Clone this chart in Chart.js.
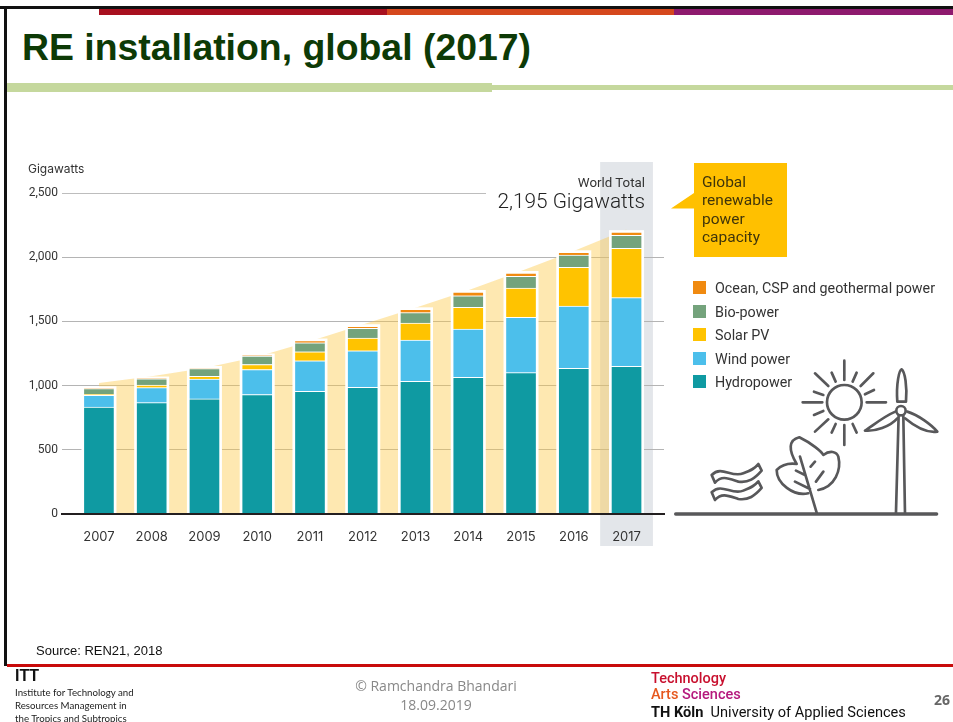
<!DOCTYPE html>
<html>
<head>
<meta charset="utf-8">
<title>RE installation, global (2017)</title>
<script src="https://cdn.jsdelivr.net/npm/chart.js@4"></script>
<style>
  html, body { margin: 0; padding: 0; background: #fff; }
  #slide { position: relative; width: 953px; height: 722px; overflow: hidden; font-family: "Liberation Sans", sans-serif; }
  #slide > * { position: absolute; }
  canvas { left: 0; top: 0; }
  .txt { white-space: nowrap; line-height: 1; }
  .legend-row { position: absolute; left: 0; height: 14px; }
  .legend-row i { position: absolute; left: 0; top: 0; width: 13px; height: 13px; }
  .legend-row span { position: absolute; left: 22px; top: -1px; font: 14.3px/16px Roboto, sans-serif; color: #333; white-space: nowrap; }
</style>
</head>
<body>
<div id="slide">
  <!-- slide frame -->
  <div style="left:0;top:6px;width:953px;height:3px;background:#111"></div>
  <div style="left:4px;top:6px;width:3px;height:660px;background:#111"></div>
  <div style="left:99px;top:9px;width:288px;height:6px;background:#a8101f"></div>
  <div style="left:387px;top:9px;width:287px;height:6px;background:#d5481d"></div>
  <div style="left:674px;top:9px;width:279px;height:6px;background:#8e1a6e"></div>
  <div class="txt" style="left:22px;top:29px;font-size:37.4px;font-weight:bold;color:#0d3a06">RE installation, global (2017)</div>
  <div style="left:7px;top:83px;width:485px;height:9px;background:#c5d89d"></div>
  <div style="left:492px;top:85px;width:461px;height:5px;background:#c5d89d"></div>

  <canvas id="capacityChart" width="953" height="722"></canvas>

  <div class="txt" style="left:28px;top:162px;font:12px/14px Inter,sans-serif;color:#333">Gigawatts</div>
  <div class="txt" style="right:308px;top:175px;font:13.3px/15px Roboto,sans-serif;color:#333">World Total</div>
  <div class="txt" style="right:308px;top:189px;font:300 20.8px/24px Roboto,sans-serif;color:#222">2,195 Gigawatts</div>

  <!-- callout, artwork -->
  <svg style="left:0;top:0" width="953" height="722">
    <polygon points="671,208.5 694,193 694,163 787,163 787,257 694,257 694,208.5" fill="#ffc000"/>
    <g transform="translate(660,150) scale(0.3333)" fill="none" stroke="#58585a" stroke-width="8" stroke-linecap="round" stroke-linejoin="round">
      <path d="M47 1092 L830 1092" stroke-width="10"/>
      <circle cx="553" cy="757" r="52"/>
      <path d="M553 632V690M553 825V885M428 757H487M620 757H678M465 670L505 708M640 670L602 708M465 845L505 808"/>
      <path d="M515 668L527 695M590 668L578 695M462 725L490 735M642 720L615 733M462 795L490 783M515 848L527 822M590 848L578 822"/>
      <path d="M708 1088L716 795M735 1088L730 795"/>
      <circle cx="723" cy="782" r="14"/>
      <path d="M712 755C708 700 718 660 725 658C735 665 742 710 738 755Z"/>
      <path d="M706 785C670 800 635 830 615 842C645 845 690 830 712 805"/>
      <path d="M742 785C775 795 815 825 832 845C800 850 765 830 735 805"/>
      <path d="M420 920L470 1088M408 962L435 975M405 995L450 1017M452 950L465 935M468 995L490 965"/>
      <path d="M445 1030C400 1040 350 1000 350 960C370 940 395 940 410 942C385 900 385 870 418 862C455 880 485 905 490 915C510 900 530 905 535 920C545 960 525 1010 475 1020"/>
      <path d="M155 975C185 945 215 985 250 970C275 960 285 955 295 942L305 962C285 985 265 1000 235 995C205 985 185 975 165 998Z"/>
      <path d="M155 1027C185 997 215 1037 250 1022C275 1012 285 1007 295 994L305 1014C285 1037 265 1052 235 1047C205 1037 185 1027 165 1050Z"/>
    </g>
  </svg>
  <div style="left:702px;top:173px;font:15.5px/18.4px Roboto,sans-serif;color:#40350a">Global<br>renewable<br>power<br>capacity</div>
  <div id="legend" style="left:693px;top:281px;width:260px;height:120px"></div>

  <div class="txt" style="left:36px;top:644px;font-size:13px;color:#111">Source: REN21, 2018</div>
  <div style="left:7px;top:664px;width:946px;height:3px;background:#c80a0a"></div>
  <div class="txt" style="left:15px;top:668px;font-size:16px;font-weight:bold;color:#111">ITT</div>
  <div style="left:15px;top:686px;font:9.7px/13px Lato,sans-serif;color:#222;white-space:nowrap">Institute for Technology and<br>Resources Management in<br>the Tropics and Subtropics</div>
  <div style="left:336px;top:676px;width:200px;text-align:center;font:14px/19px 'Open Sans',sans-serif;color:#888">© Ramchandra Bhandari<br>18.09.2019</div>
  <div class="txt" style="left:651px;top:671px;font:500 14.5px/16px Roboto,sans-serif;color:#c8102e">Technology</div>
  <div class="txt" style="left:651px;top:687px;font:500 14.5px/16px Roboto,sans-serif;color:#e6581e">Arts <span style="color:#b5197d">Sciences</span></div>
  <div class="txt" style="left:651px;top:704px;font:14.6px/16px Roboto,sans-serif;color:#111"><b>TH Köln</b>&nbsp; University of Applied Sciences</div>
  <div class="txt" style="left:934px;top:692px;font:bold 14px/16px 'Open Sans',sans-serif;color:#666">26</div>
</div>

<script>
const years = [2007, 2008, 2009, 2010, 2011, 2012, 2013, 2014, 2015, 2016, 2017];
const hydropower = [833, 867, 896, 930, 956, 987, 1034, 1065, 1101, 1135, 1150];
const windPower = [91, 117, 154, 195, 237, 284, 320, 375, 430, 484, 535];
const solarPV = [8, 21, 23, 39, 70, 99, 133, 169, 229, 302, 385];
const bioPower = [44, 47, 60, 65, 70, 76, 81, 91, 91, 96, 100];
const oceanCspGeo = [3, 3, 4, 5, 18, 16, 26, 29, 26, 21, 25];
// upper edge of the shaded growth wedge behind the bars
const capacityTrend = [1020, 1073, 1138, 1224, 1346, 1476, 1607, 1742, 1893, 2049, 2215];
const yTicks = [0, 500, 1000, 1500, 2000, 2500];

const seriesNames = ['Hydropower', 'Wind power', 'Solar PV', 'Bio-power', 'Ocean, CSP and geothermal power'];
const seriesValues = [hydropower, windPower, solarPV, bioPower, oceanCspGeo];
const seriesColors = ['#0f9aa2', '#4cbfeb', '#ffc300', '#74a37c', '#f08a10'];

// legend reads top down, from the last stacked series to the first
const legendBox = document.getElementById('legend');
seriesNames.slice().reverse().forEach((name, i) => {
  const row = document.createElement('div');
  row.className = 'legend-row';
  row.style.top = (i * 23.6) + 'px';
  row.innerHTML = '<i style="background:' + seriesColors[seriesNames.length - 1 - i] + '"></i><span>' + name + '</span>';
  legendBox.appendChild(row);
});

const slidePlugin = {
  id: 'slideExtras',
  // grey column behind the latest year
  beforeDraw(chart) {
    const { ctx, scales } = chart;
    const step = scales.x.getPixelForValue(2017) - scales.x.getPixelForValue(2016);
    ctx.save();
    ctx.fillStyle = '#e3e6ea';
    ctx.fillRect(scales.x.getPixelForValue(2017) - step / 2, 162, step, 384);
    ctx.restore();
  },
  // the top gridline stops short of the headline figure
  beforeDatasetsDraw(chart) {
    const { ctx, scales, chartArea } = chart;
    const y = Math.round(scales.y.getPixelForValue(2500)) + 0.5;
    ctx.save();
    ctx.strokeStyle = '#bdbdbd';
    ctx.lineWidth = 1;
    ctx.beginPath();
    ctx.moveTo(chartArea.left, y);
    ctx.lineTo(486, y);
    ctx.stroke();
    ctx.restore();
  },
  // white halo round each stack, on top of the wedge
  afterDatasetDraw(chart, args) {
    if (args.meta.type !== 'line') return;
    const { ctx, scales } = chart;
    const topMeta = chart.getDatasetMeta(seriesNames.length - 1);
    ctx.save();
    ctx.fillStyle = '#fff';
    topMeta.data.forEach(bar => {
      const halfWidth = bar.width / 2 + 2;
      const top = bar.y - 2;
      ctx.fillRect(bar.x - halfWidth, top, halfWidth * 2, scales.y.getPixelForValue(0) - top);
    });
    ctx.restore();
  }
};

const barSets = seriesNames.map((name, i) => ({
  type: 'bar',
  label: name,
  data: seriesValues[i],
  backgroundColor: seriesColors[i],
  borderColor: '#fff',
  borderWidth: 1,
  barThickness: 31,
  order: 1
}));

new Chart(document.getElementById('capacityChart'), {
  data: {
    labels: years,
    datasets: [
      ...barSets,
      {
        type: 'line',
        label: 'Capacity',
        data: capacityTrend,
        borderWidth: 0,
        pointRadius: 0,
        tension: 0,
        fill: 'origin',
        backgroundColor: 'rgba(252, 200, 70, 0.42)',
        order: 2
      }
    ]
  },
  options: {
    responsive: false,
    animation: false,
    layout: { padding: { left: 0, right: 289, top: 193, bottom: 160 } },
    plugins: { legend: { display: false }, tooltip: { enabled: false } },
    scales: {
      x: {
        type: 'linear',
        offset: false,
        stacked: true,
        min: 2006.3,
        max: 2017.71,
        grid: { display: false },
        border: { color: '#231f20', width: 2, z: 1 },
        ticks: {
          stepSize: 1,
          includeBounds: false,
          autoSkip: false,
          maxRotation: 0,
          padding: 7,
          color: '#333',
          font: { family: 'Inter', size: 13 },
          callback: value => String(value)
        },
        afterFit: axis => { axis.height = 48; }
      },
      y: {
        stacked: true,
        min: 0,
        max: 2500,
        afterBuildTicks: axis => { axis.ticks = yTicks.map(value => ({ value })); },
        grid: {
          color: ctx => (ctx.tick && (ctx.tick.value === 2500 || ctx.tick.value === 0)) ? 'transparent' : '#b4b4b4',
          drawTicks: false
        },
        border: { display: false },
        ticks: {
          padding: 4,
          color: '#333',
          font: { family: 'Roboto', size: 12 },
          callback: value => value.toLocaleString('en-US')
        },
        afterFit: axis => { axis.width = 62; }
      }
    }
  },
  plugins: [slidePlugin]
});
</script>
</body>
</html>
